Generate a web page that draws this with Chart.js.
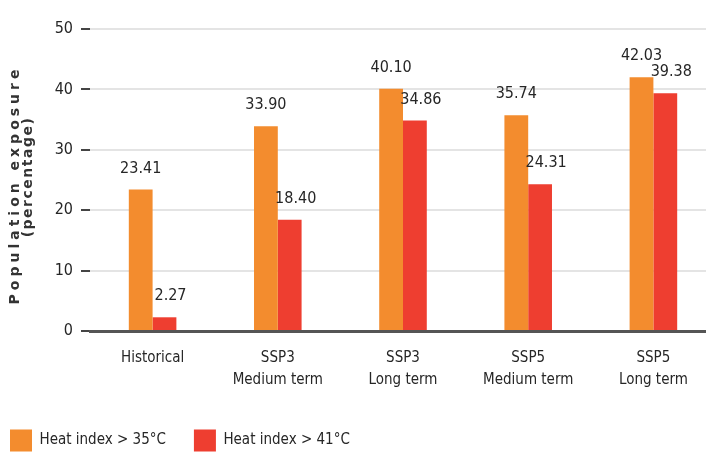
<!DOCTYPE html>
<html>
<head>
<meta charset="utf-8">
<script src="https://cdn.jsdelivr.net/npm/chart.js@4"></script>
<style>
  html, body { margin: 0; padding: 0; background: #fff; overflow: hidden; }
  #wrap { width: 716px; height: 461px; }
</style>
</head>
<body>
<div id="wrap"><canvas id="BarChart"></canvas></div>
<script>
const categories = [["Historical"], ["SSP3", "Medium term"], ["SSP3", "Long term"], ["SSP5", "Medium term"], ["SSP5", "Long term"]];
const heat35 = [23.41, 33.90, 40.10, 35.74, 42.03];
const heat41 = [2.27, 18.40, 34.86, 24.31, 39.38];
const yTicks = [0, 10, 20, 30, 40, 50];
const yTitle = ["Population exposure", "(percentage)"];

const condensed = "'Liberation Sans Narrow', 'DejaVu Sans Condensed', 'Roboto', sans-serif";

// draws the value above each bar
const valueLabels = {
  id: "valueLabels",
  afterDatasetsDraw(chart) {
    const ctx = chart.ctx;
    ctx.save();
    ctx.font = "16px " + condensed;
    ctx.fillStyle = "#262626";
    ctx.textAlign = "center";
    ctx.textBaseline = "bottom";
    chart.data.datasets.forEach((ds, i) => {
      const dx = i === 1 ? 6 : 0;
      chart.getDatasetMeta(i).data.forEach((bar, j) => {
        ctx.fillText(ds.data[j].toFixed(2), bar.x + dx, bar.y - 13);
      });
    });
    ctx.restore();
  }
};

// rotated, letter-spaced y axis title
const yAxisTitle = {
  id: "yAxisTitle",
  afterDraw(chart) {
    const ctx = chart.ctx;
    const mid = (chart.chartArea.top + chart.chartArea.bottom) / 2;
    ctx.save();
    ctx.fillStyle = "#333";
    ctx.textAlign = "center";
    ctx.textBaseline = "middle";
    ctx.font = "bold 14px 'DejaVu Sans', sans-serif";
    ctx.translate(0, mid);
    ctx.rotate(-Math.PI / 2);
    ctx.letterSpacing = "4px";
    ctx.fillText(yTitle[0], -5, 15);
    ctx.letterSpacing = "1.5px";
    ctx.fillText(yTitle[1], 3, 28);
    ctx.restore();
  }
};

// shift legend so it starts near the left edge while keeping wide gaps
const legendShift = {
  id: "legendShift",
  afterLayout(chart) {
    chart.legend.left = -18;
    chart.legend.top += 3;
  }
};

const barCTX = document.getElementById("BarChart").getContext("2d");

new Chart(barCTX, {
  type: "bar",
  data: {
    labels: categories,
    datasets: [
      {
        label: "Heat index > 35°C",
        data: heat35,
        backgroundColor: "rgb(243, 140, 46)",
        categoryPercentage: 0.38,
        barPercentage: 1.0,
      },
      {
        label: "Heat index > 41°C",
        data: heat41,
        backgroundColor: "rgb(238, 62, 48)",
        categoryPercentage: 0.38,
        barPercentage: 1.0,
      },
    ],
  },
  options: {
    responsive: true,
    maintainAspectRatio: false,
    animation: false,
    layout: {
      padding: { top: 29, right: 0, left: 0, bottom: 2.5 },
    },
    plugins: {
      legend: {
        display: true,
        position: "bottom",
        align: "start",
        labels: {
          boxWidth: 22,
          boxHeight: 22,
          padding: 28,
          color: "#262626",
          font: { size: 15, family: condensed },
        },
      },
      tooltip: { enabled: false },
    },
    scales: {
      x: {
        grid: { display: false },
        border: { color: "#555", width: 3 },
        ticks: {
          color: "#262626",
          padding: 8,
          font: { size: 15, family: condensed, lineHeight: 1.45 },
        },
      },
      y: {
        min: 0,
        max: 50,
        afterBuildTicks: (axis) => { axis.ticks = yTicks.map(v => ({ value: v })); },
        afterFit: (axis) => { axis.width = 90; },
        border: { display: false },
        grid: {
          color: "#e4e4e4",
          lineWidth: 2,
          tickColor: "#444",
          tickLength: 9,
          tickWidth: 2,
        },
        ticks: {
          color: "#262626",
          padding: 8,
          font: { size: 16, family: condensed },
        },
      },
    },
  },
  plugins: [valueLabels, yAxisTitle, legendShift],
});
</script>
</body>
</html>
